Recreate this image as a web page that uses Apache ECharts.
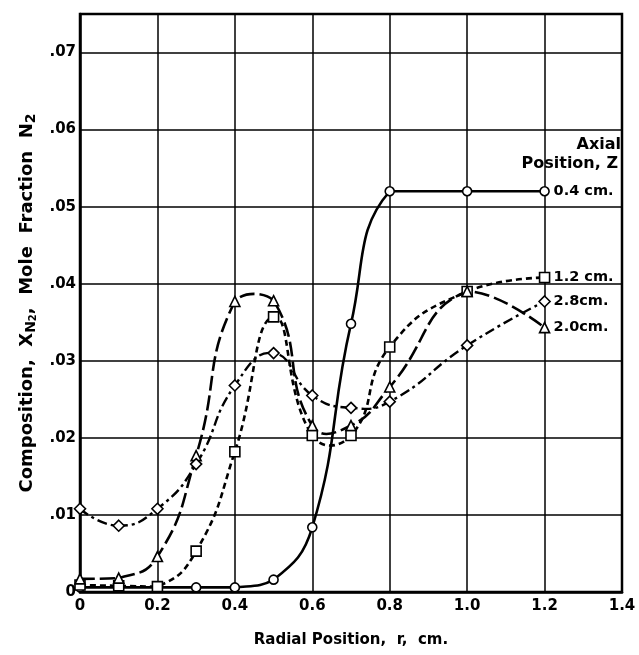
<!DOCTYPE html>
<html>
<head>
<meta charset="utf-8">
<script src="https://cdn.jsdelivr.net/npm/echarts@6/dist/echarts.min.js"></script>
<style>
html,body{margin:0;padding:0;background:#fff;}
#chart{width:639px;height:655px;}
</style>
</head>
<body>
<div id="chart"></div>
<script>
// Radial positions (cm)
const radial = [0, 0.1, 0.2, 0.3, 0.4, 0.5, 0.6, 0.7, 0.8, 1.0, 1.2];
// Mole fraction N2 for each axial position Z
const z04 = [0.0006, 0.0006, 0.0006, 0.0006, 0.0006, 0.0016, 0.0084, 0.0348, 0.0520, 0.0520, 0.0520];
const z12 = [0.0009, 0.0008, 0.0007, 0.0053, 0.0182, 0.0357, 0.0203, 0.0203, 0.0318, 0.0390, 0.0408];
const z20 = [0.0017, 0.0018, 0.0046, 0.0177, 0.0377, 0.0378, 0.0216, 0.0216, 0.0266, 0.0390, 0.0343];
const z28 = [0.0108, 0.0086, 0.0108, 0.0166, 0.0268, 0.0310, 0.0255, 0.0239, 0.0247, 0.0320, 0.0377];
const seriesLabels = ['0.4 cm.', '1.2 cm.', '2.0cm.', '2.8cm.'];
const legendTitle = ['Axial', 'Position, Z'];

const FONT = 'DejaVu Sans';
const pair = arr => radial.map((r, i) => [r, arr[i]]);

// smooth curve through the points, drawn through the chart's coordinate system
function curveSeries(arr, dash, width, smooth) {
  return {
    type: 'custom',
    data: pair(arr),
    encode: { x: 0, y: 1 },
    silent: true,
    clip: false,
    z: 2,
    renderItem: function (params, api) {
      if (params.dataIndex !== 0) return null;
      const pts = radial.map((r, i) => api.coord([r, arr[i]]));
      return {
        type: 'polyline',
        shape: { points: pts, smooth: smooth, smoothConstraint: [pts[0].slice(), pts[0].slice()] },
        style: { stroke: '#000', fill: null, lineWidth: width, lineDash: dash }
      };
    }
  };
}

function markerSeries(name, arr, symbol, size, label) {
  return {
    name: name,
    type: 'line',
    data: pair(arr),
    symbol: symbol,
    symbolSize: size,
    showAllSymbol: true,
    lineStyle: { width: 0, opacity: 0 },
    itemStyle: { color: '#fff', borderColor: '#000', borderWidth: 1.6 },
    emphasis: { disabled: true },
    z: 4,
    endLabel: {
      show: true,
      formatter: label,
      color: '#000',
      fontFamily: FONT,
      fontWeight: 'bold',
      fontSize: 14.5,
      distance: 9
    }
  };
}

const titleStyle = { fontFamily: FONT, fontWeight: 'bold', fontSize: 16, color: '#000' };

const chart = echarts.init(document.getElementById('chart'), null, { renderer: 'canvas' });
chart.setOption({
  animation: false,
  backgroundColor: '#fff',
  title: [
    { text: legendTitle[0], right: 18, top: 137, padding: 0, textStyle: titleStyle },
    { text: legendTitle[1], right: 21, top: 156, padding: 0, textStyle: titleStyle }
  ],
  grid: {
    left: 80, right: 17, top: 14, bottom: 63,
    show: true, borderColor: '#000', borderWidth: 2.5, backgroundColor: 'transparent'
  },
  xAxis: {
    type: 'value',
    min: 0, max: 1.4, interval: 0.2,
    axisLine: { show: true, lineStyle: { color: '#000', width: 2.5 } },
    axisTick: { show: false },
    splitLine: { show: true, lineStyle: { color: '#000', width: 1.5 } },
    axisLabel: {
      margin: 7,
      color: '#000', fontFamily: FONT, fontWeight: 'bold', fontSize: 15,
      formatter: v => v === 0 ? '0' : v.toFixed(1)
    },
    name: 'Radial Position,  r,  cm.',
    nameLocation: 'middle',
    nameGap: 41,
    nameTextStyle: { color: '#000', fontFamily: FONT, fontWeight: 'bold', fontSize: 15 }
  },
  yAxis: {
    type: 'value',
    min: 0, max: 0.075, interval: 0.01,
    axisLine: { show: true, lineStyle: { color: '#000', width: 2.5 } },
    axisTick: { show: false },
    splitLine: { show: true, lineStyle: { color: '#000', width: 1.5 } },
    axisLabel: {
      margin: 4,
      color: '#000', fontFamily: FONT, fontWeight: 'bold', fontSize: 15,
      formatter: v => v === 0 ? '0' : (v > 0.0705 ? '' : v.toFixed(2).replace(/^0/, ''))
    },
    name: '{a|Composition,  X}{s|N}{t|2}{a|,  Mole  Fraction  N}{s|2}',
    nameLocation: 'middle',
    nameGap: 40,
    nameTextStyle: {
      color: '#000', fontFamily: FONT, fontWeight: 'bold', fontSize: 18,
      rich: {
        a: { fontFamily: FONT, fontWeight: 'bold', fontSize: 18, color: '#000', lineHeight: 22, verticalAlign: 'middle' },
        s: { fontFamily: FONT, fontWeight: 'bold', fontSize: 14, color: '#000', lineHeight: 22, verticalAlign: 'bottom', padding: [6, 0, 0, 0] },
        t: { fontFamily: FONT, fontWeight: 'bold', fontSize: 10, color: '#000', lineHeight: 22, verticalAlign: 'bottom', padding: [10, 0, 0, 0] }
      }
    }
  },
  series: [
    curveSeries(z04, null, 2.6, 0.45),
    curveSeries(z12, [6, 4], 2.6, 0.5),
    curveSeries(z20, [15, 5], 2.6, 0.5),
    curveSeries(z28, [10, 4, 3, 4], 2.4, 0.5),
    markerSeries('0.4', z04, 'circle', 9, seriesLabels[0]),
    markerSeries('1.2', z12, 'rect', 10, seriesLabels[1]),
    markerSeries('2.0', z20, 'triangle', 10, seriesLabels[2]),
    markerSeries('2.8', z28, 'diamond', 11, seriesLabels[3])
  ]
});
</script>
</body>
</html>
